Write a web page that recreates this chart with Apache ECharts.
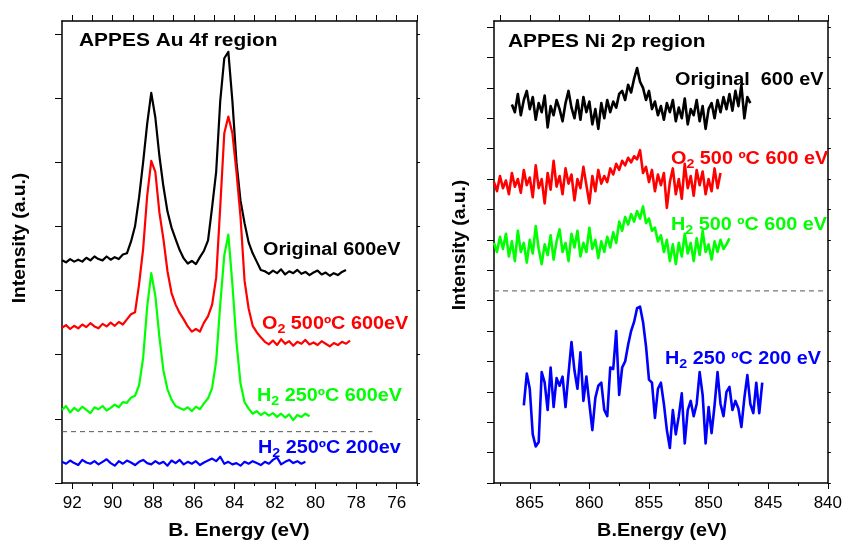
<!DOCTYPE html>
<html>
<head>
<meta charset="utf-8">
<script src="https://cdn.jsdelivr.net/npm/echarts@6/dist/echarts.min.js"></script>
<style>
  html, body { margin: 0; padding: 0; background: #fff; }
  #chart { width: 845px; height: 542px; }
</style>
</head>
<body>
<div id="chart"></div>
<script>
// ---------- Au 4f panel: binding energy grid (eV) and intensities (a.u.) ----------
const auStart = 92.5;
const auStep = 0.2;
const auOriginal = [
  3.47, 3.44, 3.49, 3.45, 3.48, 3.45, 3.51, 3.47, 3.53, 3.49,
  3.47, 3.53, 3.48, 3.52, 3.49, 3.56, 3.58, 3.76, 4.00, 4.45,
  5.00, 5.60, 6.08, 5.70, 5.10, 4.62, 4.23, 3.98, 3.80, 3.63,
  3.50, 3.42, 3.46, 3.41, 3.52, 3.62, 3.78, 4.30, 4.85, 5.95,
  6.62, 6.72, 5.95, 5.00, 4.40, 4.05, 3.75, 3.58, 3.45, 3.32,
  3.30, 3.26, 3.31, 3.27, 3.33, 3.25, 3.30, 3.27, 3.32, 3.26,
  3.29, 3.24, 3.28, 3.31, 3.25, 3.28, 3.23, 3.27, 3.24, 3.29,
  3.32
];
const auO2 = [
  2.42, 2.46, 2.40, 2.45, 2.41, 2.47, 2.43, 2.49, 2.44, 2.41,
  2.48, 2.44, 2.50, 2.45, 2.51, 2.47, 2.55, 2.63, 2.66, 3.10,
  3.65, 4.48, 5.02, 4.85, 4.22, 3.80, 3.30, 2.96, 2.78, 2.65,
  2.55, 2.44, 2.36, 2.40, 2.36, 2.50, 2.60, 2.78, 3.20, 4.30,
  5.45, 5.71, 5.45, 4.85, 4.15, 3.15, 2.72, 2.45, 2.35, 2.27,
  2.20, 2.16, 2.22, 2.15, 2.24, 2.17, 2.21, 2.14, 2.20, 2.17,
  2.23, 2.16, 2.19, 2.15, 2.21, 2.17, 2.13, 2.18, 2.15, 2.20,
  2.17, 2.22
];
const auH2 = [
  1.14, 1.20, 1.10, 1.17, 1.12, 1.19, 1.14, 1.09, 1.18, 1.15,
  1.20, 1.13, 1.17, 1.22, 1.18, 1.26, 1.25, 1.33, 1.36, 1.52,
  1.95, 2.75, 3.27, 2.92, 2.28, 1.75, 1.46, 1.30, 1.20, 1.17,
  1.14, 1.18, 1.12, 1.19, 1.15, 1.24, 1.32, 1.48, 1.90, 2.78,
  3.55, 3.87, 3.10, 2.20, 1.55, 1.26, 1.16, 1.08, 1.12, 1.06,
  1.10, 1.05, 1.09, 1.03, 1.08, 1.02, 1.07, 0.98, 1.06, 1.03,
  1.08, 1.04
];
const auH2Low = [
  0.33, 0.30, 0.35, 0.31, 0.28, 0.36, 0.32, 0.30, 0.34, 0.29,
  0.33, 0.37, 0.31, 0.27, 0.34, 0.30, 0.35, 0.32, 0.28, 0.33,
  0.36, 0.31, 0.29, 0.34, 0.30, 0.33, 0.27, 0.35, 0.31, 0.36,
  0.29, 0.33, 0.30, 0.34, 0.28, 0.32, 0.35, 0.38, 0.34, 0.41,
  0.30, 0.33, 0.29, 0.31, 0.27, 0.33, 0.30, 0.34, 0.31, 0.28,
  0.33, 0.30, 0.36, 0.40, 0.29, 0.33, 0.36, 0.31, 0.34, 0.30,
  0.33
];
const auDividerX = [92.5, 77.2];
const auDividerLevel = 0.8;
const auTickLabels = [92, 90, 88, 86, 84, 82, 80, 78, 76];
const auMinorTicks = [91, 89, 87, 85, 83, 81, 79, 77, 75];
const auIntensityTicks = [0, 1, 2, 3, 4, 5, 6, 7];

// ---------- Ni 2p panel ----------
const niStep = 0.25;
const niOriginalStart = 866.5;
const niOriginal = [
  12.45, 12.2, 12.8, 12.1, 12.6, 12.9, 12.3, 12.7, 11.95, 12.5,
  12.2, 12.75, 11.7, 12.4, 12.1, 12.6, 12.3, 11.9, 12.5, 12.9,
  12.35, 12.0, 12.6, 11.95, 12.7, 12.2, 12.55, 11.8, 12.3, 11.65,
  12.5, 12.0, 12.6, 12.2, 12.55, 12.35, 12.8, 12.9, 12.6, 13.1,
  12.85, 13.3, 13.65, 13.2, 13.0, 12.6, 12.9, 12.3, 12.55, 12.1,
  12.4, 11.95, 12.5, 12.2, 12.6, 11.9, 12.35, 12.0, 12.65, 11.8,
  12.3, 12.1, 12.6, 11.9, 12.4, 11.65, 12.3, 12.5, 12.0, 12.6,
  12.2, 12.7, 12.3, 12.8, 12.25, 12.9, 12.4, 13.1, 12.0, 12.7,
  12.5
];
const niO2Start = 868;
const niO2 = [
  9.9, 9.6, 10.1, 9.7, 9.95, 9.5, 10.2, 9.75, 10.0, 9.55,
  10.3, 9.8, 10.05, 9.4, 10.45, 9.7, 10.0, 9.2, 10.2, 9.65,
  10.6, 9.75, 10.1, 9.5, 10.35, 9.85, 10.15, 9.3, 10.0, 9.7,
  10.4, 9.8, 9.2, 10.1, 9.6, 10.3, 9.85, 10.1, 9.9, 10.35,
  10.15, 10.5, 10.3, 10.6, 10.45, 10.7, 10.55, 10.75, 10.65, 10.95,
  10.2, 10.4, 9.9, 10.3, 9.6, 10.15, 9.8, 10.2, 9.05, 9.9,
  10.35, 9.5, 10.0, 9.35, 10.5, 9.7, 10.1, 9.45, 10.3, 9.8,
  10.25, 9.5, 10.0, 9.6, 10.35, 9.7, 10.2
];
const niH2Start = 868;
const niH2 = [
  7.9, 7.6, 8.1, 7.7, 8.2, 7.45, 7.95, 7.3, 8.3, 7.6,
  7.9, 7.25, 8.0, 7.55, 8.45, 7.7, 7.2, 7.85, 7.5, 8.15,
  7.35, 7.95, 8.35, 7.6, 7.9, 7.3, 8.2, 7.75, 8.3, 7.45,
  7.9, 7.6, 8.4, 7.7, 8.0, 7.4, 7.95, 7.6, 8.1, 7.75,
  8.25, 7.9, 8.6, 8.3, 8.75, 8.5, 8.85, 8.6, 8.95, 8.7,
  9.1, 8.55, 8.7, 8.3, 8.4, 7.95, 8.15, 7.6, 8.0, 7.3,
  7.85, 7.2, 7.9, 7.45, 8.2, 7.55, 7.9, 7.3, 8.05, 7.5,
  8.3, 7.6, 7.85, 7.35, 7.95, 7.6, 8.0, 7.7, 7.85, 8.05
];
const niH2LowStart = 865.5;
const niH2Low = [
  2.55, 3.6, 3.1, 1.6, 1.2, 1.35, 3.65, 3.3, 2.4, 3.8,
  2.5, 3.45, 3.2, 3.5, 2.5, 3.6, 4.64, 3.7, 3.1, 4.3,
  2.7, 3.5, 2.6, 1.74, 2.8, 3.2, 3.3, 2.4, 2.2, 3.8,
  3.75, 5.0, 2.9, 3.8, 4.0, 4.55, 5.0, 5.3, 5.75, 5.8,
  5.3, 4.5, 3.4, 3.3, 2.14, 3.1, 3.3, 2.6, 1.74, 1.15,
  2.4, 1.6, 2.2, 2.95, 1.3, 2.4, 2.7, 2.2, 2.6, 3.65,
  2.9, 1.3, 2.5, 1.64, 2.55, 3.65, 2.6, 2.2, 3.0, 3.16,
  2.4, 2.7, 2.45, 1.84, 2.8, 3.55, 2.6, 2.3, 3.3, 2.3,
  3.3
];
const niDividerX = [868, 840];
const niDividerLevel = 6.32;
const niTickLabels = [865, 860, 855, 850, 845, 840];
const niMinorTicks = [867.5, 862.5, 857.5, 852.5, 847.5, 842.5];
const niIntensityTicks = [0, 1, 2, 3, 4, 5, 6, 7, 8, 9, 10, 11, 12, 13, 14, 15];

// ---------- helpers ----------
const FONT = '"Liberation Sans", Arial, Helvetica, sans-serif';

function toPairs(start, step, values) {
  return values.map((v, i) => [Number((start - i * step).toFixed(3)), v]);
}

function xAxes(gridIndex, min, max, labels, minor) {
  const common = { gridIndex, type: 'value', min, max, inverse: true, splitLine: { show: false } };
  return [
    Object.assign({}, common, {
      position: 'bottom',
      axisLine: { show: true, onZero: false, lineStyle: { color: '#000', width: 1.5 } },
      axisTick: { show: true, customValues: labels, length: 6, lineStyle: { color: '#000', width: 1 } },
      axisLabel: { show: true, customValues: labels, fontFamily: FONT, fontSize: 17, color: '#000', margin: 12 }
    }),
    Object.assign({}, common, {
      position: 'bottom',
      axisLine: { show: false, onZero: false },
      axisTick: { show: true, customValues: minor, length: 3, lineStyle: { color: '#000', width: 1 } },
      axisLabel: { show: false }
    }),
    Object.assign({}, common, {
      position: 'top',
      axisLine: { show: true, onZero: false, lineStyle: { color: '#000', width: 1.5 } },
      axisTick: { show: true, customValues: labels.concat(minor), length: 6, lineStyle: { color: '#000', width: 1 } },
      axisLabel: { show: false }
    })
  ];
}

function yAxes(gridIndex, max, ticks) {
  const common = { gridIndex, type: 'value', min: 0, max, splitLine: { show: false }, axisLabel: { show: false } };
  return [
    Object.assign({}, common, {
      position: 'left',
      axisLine: { show: true, onZero: false, lineStyle: { color: '#000', width: 1.5 } },
      axisTick: { show: true, customValues: ticks, length: 7, lineStyle: { color: '#000', width: 1 } }
    }),
    Object.assign({}, common, {
      position: 'right',
      axisLine: { show: true, onZero: false, lineStyle: { color: '#000', width: 1.5 } },
      axisTick: { show: true, customValues: ticks, length: 3, lineStyle: { color: '#000', width: 1 } }
    })
  ];
}

function spectrum(data, color, xi, yi, width) {
  return {
    type: 'line', data, xAxisIndex: xi, yAxisIndex: yi,
    showSymbol: false, symbol: 'none', silent: true, z: 3,
    lineStyle: { color, width, join: 'round' }, itemStyle: { color }
  };
}

function divider(xs, level, xi, yi) {
  return {
    type: 'line', data: xs.map(x => [x, level]), xAxisIndex: xi, yAxisIndex: yi,
    showSymbol: false, symbol: 'none', silent: true, z: 2,
    lineStyle: { color: '#555', width: 1, type: [5, 4] }
  };
}

// text with optional subscripts: parts = [[text, isSubscript], ...]
function label(x, y, parts, color, opt) {
  const o = opt || {};
  const size = o.size || 18;
  const text = parts.map(p => (p[1] ? '{s|' : '{m|') + p[0] + '}').join('');
  return {
    type: 'text', x, y, rotation: o.rotation || 0, scaleX: o.scaleX || 1.1,
    silent: true, z: 10,
    style: {
      text, align: o.align || 'left', verticalAlign: 'middle',
      rich: {
        m: { fontFamily: FONT, fontWeight: 'bold', fontSize: size, lineHeight: 20, fill: color },
        s: { fontFamily: FONT, fontWeight: 'bold', fontSize: 13, lineHeight: 13, padding: [10, 0, 0, 0], fill: color }
      }
    }
  };
}

const chart = echarts.init(document.getElementById('chart'), null, { renderer: 'canvas' });

const AU_W = 2.2;
const NI_W = 2.6;

chart.setOption({
  backgroundColor: '#fff',
  animation: false,
  grid: [
    { left: 62, right: 428, top: 21, bottom: 59 },
    { left: 494, right: 15, top: 21, bottom: 59 }
  ],
  xAxis: [].concat(
    xAxes(0, 75, 92.5, auTickLabels, auMinorTicks),
    xAxes(1, 840, 868, niTickLabels, niMinorTicks)
  ),
  yAxis: [].concat(
    yAxes(0, 7.2, auIntensityTicks),
    yAxes(1, 15.2, niIntensityTicks)
  ),
  series: [
    divider(auDividerX, auDividerLevel, 0, 0),
    spectrum(toPairs(auStart, auStep, auOriginal), '#000000', 0, 0, AU_W),
    spectrum(toPairs(auStart, auStep, auO2), '#ff0000', 0, 0, AU_W),
    spectrum(toPairs(auStart, auStep, auH2), '#00ff00', 0, 0, AU_W),
    spectrum(toPairs(auStart, auStep, auH2Low), '#0000ff', 0, 0, AU_W),
    divider(niDividerX, niDividerLevel, 3, 2),
    spectrum(toPairs(niOriginalStart, niStep, niOriginal), '#000000', 3, 2, NI_W),
    spectrum(toPairs(niO2Start, niStep, niO2), '#ff0000', 3, 2, NI_W),
    spectrum(toPairs(niH2Start, niStep, niH2), '#00ff00', 3, 2, NI_W),
    spectrum(toPairs(niH2LowStart, niStep, niH2Low), '#0000ff', 3, 2, NI_W)
  ],
  graphic: [
    label(79, 41, [['APPES Au 4f region']], '#000', { size: 19 }),
    label(263, 250, [['Original 600eV']], '#000'),
    label(262, 324, [['O'], ['2', 1], [' 500ºC 600eV']], '#ff0000'),
    label(257, 396, [['H'], ['2', 1], [' 250ºC 600eV']], '#00ff00'),
    label(258, 448, [['H'], ['2', 1], [' 250ºC 200ev']], '#0000ff'),
    label(508, 42, [['APPES Ni 2p region']], '#000', { size: 19 }),
    label(675, 80, [['Original  600 eV']], '#000'),
    label(671, 159, [['O'], ['2', 1], [' 500 ºC 600 eV']], '#ff0000'),
    label(671, 225, [['H'], ['2', 1], [' 500 ºC 600 eV']], '#00ff00'),
    label(665, 359, [['H'], ['2', 1], [' 250 ºC 200 eV']], '#0000ff'),
    label(239, 531, [['B. Energy (eV)']], '#000', { align: 'center', scaleX: 1.15 }),
    label(662, 531, [['B.Energy (eV)']], '#000', { align: 'center', scaleX: 1.1 }),
    label(20, 238, [['Intensity (a.u.)']], '#000', { align: 'center', rotation: Math.PI / 2, scaleX: 1.07 }),
    label(460, 245, [['Intensity (a.u.)']], '#000', { align: 'center', rotation: Math.PI / 2, scaleX: 1.07 })
  ]
});
</script>
</body>
</html>
